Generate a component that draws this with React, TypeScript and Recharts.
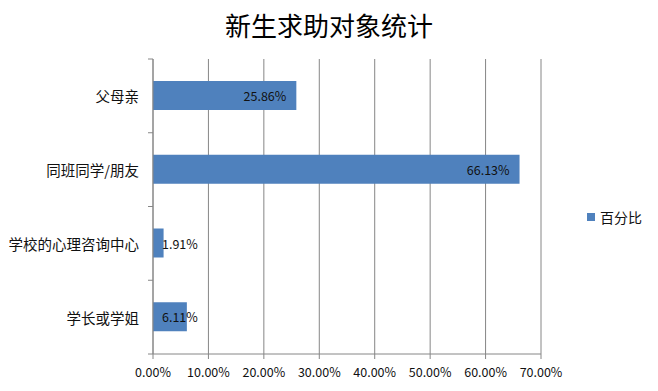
import React from 'react'
import { BarChart, Bar, XAxis, YAxis, CartesianGrid, LabelList } from 'recharts'

const categories = ['父母亲', '同班同学/朋友', '学校的心理咨询中心', '学长或学姐']
const percentValues = [25.86, 66.13, 1.91, 6.11]
const xTicks = [0, 10, 20, 30, 40, 50, 60, 70]
const seriesName = '百分比'
const title = '新生求助对象统计'

const chartData = categories.map((name, i) => ({ name, value: percentValues[i] }))

const W = 658
const H = 391
const MARGIN = { top: 59, right: 117, bottom: 7, left: 0 }
const Y_AXIS_W = 153
const X_AXIS_H = 30
const AXIS_X = MARGIN.left + Y_AXIS_W
const BAND = (H - MARGIN.top - MARGIN.bottom - X_AXIS_H) / categories.length
const GRID = '#868686'
const BAR = '#4F81BD'
const FONT = '"Noto Sans CJK SC", "Noto Sans", sans-serif'

const CategoryTick = (props: any) => {
  const { y, payload, index } = props
  return (
    <g>
      <text
        x={AXIS_X - 14}
        y={y}
        textAnchor="end"
        dominantBaseline="central"
        fontSize={14.5}
        fontFamily={FONT}
        fill="#111"
      >
        {payload.value}
      </text>
      {index === 0 && (
        <line x1={AXIS_X - 5} x2={AXIS_X} y1={y - BAND / 2} y2={y - BAND / 2} stroke={GRID} />
      )}
      <line x1={AXIS_X - 5} x2={AXIS_X} y1={y + BAND / 2} y2={y + BAND / 2} stroke={GRID} />
    </g>
  )
}

// Excel style "inside end" label, pushed right of the bar start when the bar is too short
const ValueLabel = (props: any) => {
  const { x, y, width, height, value } = props
  const small = width < 50
  return (
    <text
      x={small ? x + 9 : x + width - 10}
      y={y + height / 2}
      textAnchor={small ? 'start' : 'end'}
      dominantBaseline="central"
      fontSize={12.5}
      fontFamily={FONT}
      fill="#111"
    >
      {`${Number(value).toFixed(2)}%`}
    </text>
  )
}

export default function App() {
  return (
    <div style={{ position: 'absolute', left: 0, top: 0, width: W, height: H, background: '#fff' }}>
      <div
        style={{
          position: 'absolute',
          left: 0,
          top: 9,
          width: W,
          textAlign: 'center',
          fontSize: 26,
          lineHeight: '32px',
          fontFamily: '"Noto Sans CJK SC", serif',
          color: '#000',
        }}
      >
        {title}
      </div>
      <BarChart width={W} height={H} data={chartData} layout="vertical" margin={MARGIN}>
        <CartesianGrid horizontal={false} stroke={GRID} />
        <XAxis
          type="number"
          domain={[0, 70]}
          ticks={xTicks}
          height={X_AXIS_H}
          interval={0}
          tickFormatter={(v: number) => `${v.toFixed(2)}%`}
          axisLine={{ stroke: GRID }}
          tickLine={{ stroke: GRID }}
          tickSize={5}
          tickMargin={9}
          tick={{ fontSize: 12.5, fontFamily: FONT, fill: '#111' }}
        />
        <YAxis
          type="category"
          dataKey="name"
          width={Y_AXIS_W}
          axisLine={{ stroke: GRID }}
          tickLine={false}
          interval={0}
          tick={<CategoryTick />}
        />
        <Bar dataKey="value" name={seriesName} fill={BAR} barSize={29} isAnimationActive={false}>
          <LabelList dataKey="value" content={<ValueLabel />} />
        </Bar>
      </BarChart>
      <div
        style={{
          position: 'absolute',
          left: 587,
          top: 207,
          height: 20,
          display: 'flex',
          alignItems: 'center',
          fontFamily: FONT,
          fontSize: 14,
          color: '#111',
        }}
      >
        <span style={{ width: 8, height: 8, background: BAR, display: 'inline-block', marginRight: 5 }} />
        <span>{seriesName}</span>
      </div>
    </div>
  )
}
